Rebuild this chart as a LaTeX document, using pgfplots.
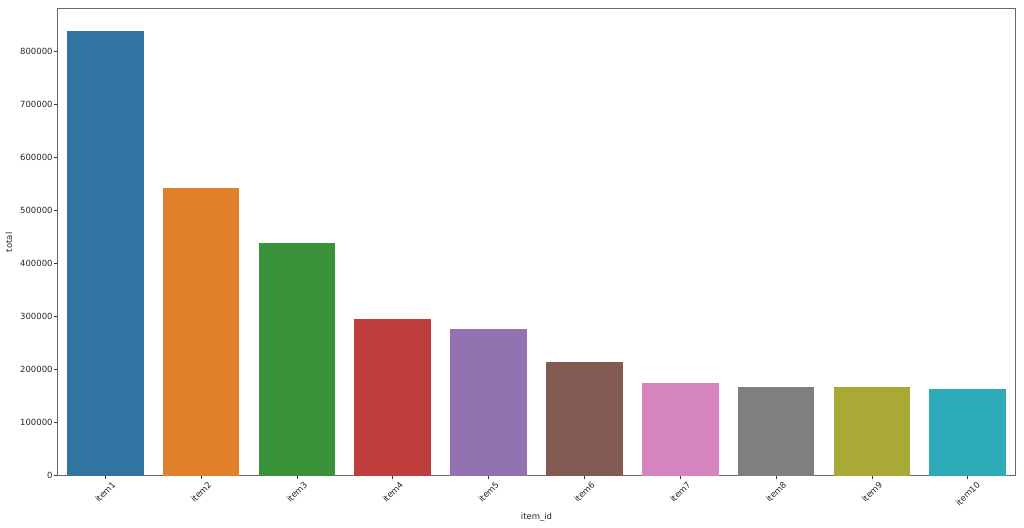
\documentclass[border=0pt]{standalone}
\usepackage{fontspec}
\setmainfont{DejaVu Sans}
\usepackage{pgfplots}
\pgfplotsset{compat=1.18}
\usepackage{graphicx}

% seaborn default palette (desaturated tab10)
\definecolor{c1}{HTML}{3274A1}
\definecolor{c2}{HTML}{E1812C}
\definecolor{c3}{HTML}{3A923A}
\definecolor{c4}{HTML}{C03D3E}
\definecolor{c5}{HTML}{9372B2}
\definecolor{c6}{HTML}{845B53}
\definecolor{c7}{HTML}{D684BD}
\definecolor{c8}{HTML}{7F7F7F}
\definecolor{c9}{HTML}{A9AA35}
\definecolor{c10}{HTML}{2EABB8}

\newcommand{\lblfont}{\fontsize{8.5bp}{10bp}\selectfont}

\begin{document}
\begin{tikzpicture}
\begin{axis}[
    scale only axis,
    width=958.4bp,
    height=466.7bp,
    xmin=-0.5, xmax=9.5,
    ymin=0, ymax=879000,
    ybar,
    bar width=0.8,
    xtick={0,...,9},
    xticklabels={\rotatebox{45}{item1},\rotatebox{45}{item2},\rotatebox{45}{item3},
        \rotatebox{45}{item4},\rotatebox{45}{item5},\rotatebox{45}{item6},
        \rotatebox{45}{item7},\rotatebox{45}{item8},\rotatebox{45}{item9},
        \rotatebox{45}{item10}},
    xticklabel style={anchor=north, inner sep=1bp, yshift=-1bp},
    ytick={0,100000,...,800000},
    scaled y ticks=false,
    yticklabel style={/pgf/number format/fixed, /pgf/number format/1000 sep={},
        inner sep=1.5bp},
    /pgf/number format/assume math mode=true,
    tick label style={font=\lblfont, text=black!85},
    label style={font=\lblfont, text=black!85},
    xlabel={item\_id},
    ylabel={total},
    xlabel style={yshift=-2bp},
    ylabel style={yshift=3bp},
    tick align=outside,
    xtick pos=left, ytick pos=left,
    major tick length=3bp,
    tick style={black!80, line width=0.8bp},
    axis line style={black!60, line width=1bp},
    every axis plot/.append style={draw=none, bar shift=0pt},
]
\addplot[fill=c1]  coordinates {(0,837400)};
\addplot[fill=c2]  coordinates {(1,541200)};
\addplot[fill=c3]  coordinates {(2,438200)};
\addplot[fill=c4]  coordinates {(3,294500)};
\addplot[fill=c5]  coordinates {(4,275700)};
\addplot[fill=c6]  coordinates {(5,213500)};
\addplot[fill=c7]  coordinates {(6,174600)};
\addplot[fill=c8]  coordinates {(7,166500)};
\addplot[fill=c9]  coordinates {(8,166300)};
\addplot[fill=c10] coordinates {(9,163300)};
\end{axis}
\pgfresetboundingbox
\path (current axis.south west) ++(-57.3bp,-52.3bp)
    rectangle ([shift={(8.3bp,9bp)}]current axis.north east);
\end{tikzpicture}
\end{document}
